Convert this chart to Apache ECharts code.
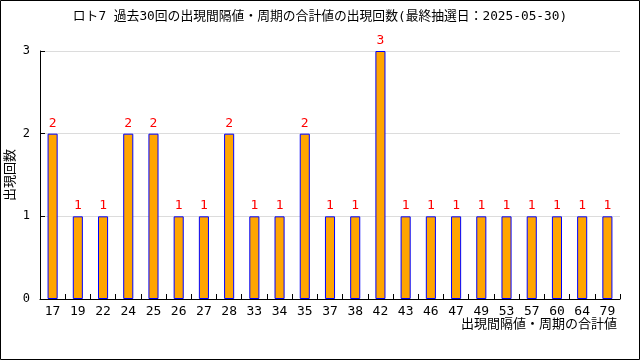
<!DOCTYPE html>
<html><head><meta charset="utf-8">
<script src="https://cdn.jsdelivr.net/npm/echarts@6/dist/echarts.min.js"></script>
<style>html,body{margin:0;padding:0;background:#fff}#c{width:640px;height:360px}</style>
</head><body><div id="c"></div>
<script>
const titleText = 'ロト7 過去30回の出現間隔値・周期の合計値の出現回数(最終抽選日：2025-05-30)';
const xName = '出現間隔値・周期の合計値';
const yName = '出現回数';
const categories = ['17','19','22','24','25','26','27','28','33','34','35','37','38','42','43','46','47','49','53','57','60','64','79'];
const counts = [2,1,1,2,2,1,1,2,1,1,2,1,1,3,1,1,1,1,1,1,1,1,1];
const FONT = '"DejaVu Sans Mono", "Noto Sans CJK JP", sans-serif';
const chart = echarts.init(document.getElementById('c'), null, {renderer:'canvas'});
chart.setOption({
  animation:false,
  backgroundColor:'#fff',
  textStyle:{fontFamily:FONT},
  title:{text:titleText,left:'center',top:5,textStyle:{fontSize:12.8,fontWeight:'normal',color:'#000',fontFamily:FONT}},
  graphic:[{type:'rect',shape:{x:0.5,y:0.5,width:639,height:359},style:{fill:'none',stroke:'#000',lineWidth:1},silent:true}],
  grid:{left:40,right:20,top:51,bottom:61,containLabel:false,outerBoundsMode:'none'},
  xAxis:{type:'category',data:categories,boundaryGap:true,
    name:xName,nameLocation:'end',nameGap:0,nameMoveOverlap:false,
    nameTextStyle:{fontSize:13,color:'#000',align:'right',verticalAlign:'top',padding:[19,3,0,0],fontFamily:FONT},
    axisLine:{show:true,lineStyle:{color:'#000',width:1}},
    axisTick:{show:true,inside:true,length:5,interval:0,alignWithLabel:false,lineStyle:{color:'#000',width:1}},
    axisLabel:{color:'#000',fontSize:13,margin:6,interval:0,fontFamily:FONT},
    splitLine:{show:false}},
  yAxis:{type:'value',min:0,max:3,interval:1,
    name:yName,nameLocation:'middle',nameGap:23,nameRotate:90,nameMoveOverlap:false,
    nameTextStyle:{fontSize:13,color:'#000',fontFamily:FONT},
    axisLine:{show:true,lineStyle:{color:'#000',width:1}},
    axisTick:{show:true,inside:true,length:5,lineStyle:{color:'#000'}},
    axisLabel:{color:'#000',fontSize:12,margin:10,fontFamily:FONT},
    splitLine:{show:true,lineStyle:{color:'#dcdcdc'}}},
  series:[{type:'bar',data:counts,barWidth:'40%',z:1,
    itemStyle:{color:'#FFA500',borderColor:'#0000FF',borderWidth:1},
    label:{show:true,position:'top',distance:4,color:'#FF0000',fontSize:13,fontFamily:FONT}}]
});
</script></body></html>
